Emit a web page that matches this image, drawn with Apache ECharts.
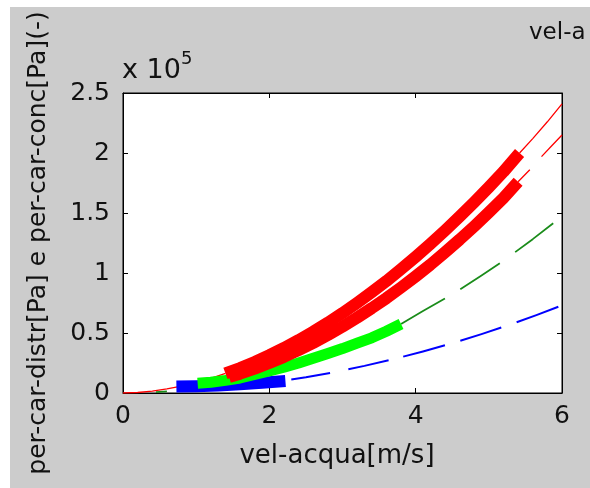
<!DOCTYPE html>
<html><head><meta charset="utf-8">
<script src="https://cdn.jsdelivr.net/npm/echarts@6.0.0/dist/echarts.min.js"></script>
<style>html,body{margin:0;padding:0;background:#fff}#c{width:590px;height:488px}</style>
</head><body><div id="c"></div>
<script>
// ---- data (pressure values in units of 10^5 Pa) ----
const xTickLabels = ['0', '2', '4', '6'];
const yTickLabels = ['0', '0.5', '1', '1.5', '2', '2.5'];

// thick measured bands
const redUpperBandX = [1.4,1.6,1.8,2.0,2.2,2.4,2.6,2.8,3.0,3.2,3.4,3.6,3.8,4.0,4.2,4.4,4.6,4.8,5.0,5.2,5.42];
const redUpperBandY = [0.163,0.208,0.259,0.315,0.375,0.441,0.511,0.586,0.666,0.751,0.840,0.933,1.032,1.135,1.242,1.353,1.469,1.590,1.715,1.844,2.0];
const redLowerBandX = [1.45,1.6,1.8,2.0,2.2,2.4,2.6,2.8,3.0,3.2,3.4,3.6,3.8,4.0,4.2,4.4,4.6,4.8,5.0,5.2,5.4];
const redLowerBandY = [0.133,0.161,0.203,0.250,0.301,0.357,0.418,0.483,0.553,0.628,0.707,0.790,0.879,0.972,1.069,1.172,1.278,1.389,1.505,1.625,1.76];
const greenBandX = [1.02,1.2,1.4,1.6,1.8,2.0,2.2,2.4,2.6,2.8,3.0,3.2,3.4,3.6,3.8];
const greenBandY = [0.082,0.09,0.105,0.125,0.155,0.185,0.215,0.25,0.29,0.33,0.37,0.415,0.46,0.515,0.575];
const blueBandX = [0.73,1.0,1.3,1.6,1.9,2.22];
const blueBandY = [0.054,0.056,0.062,0.072,0.085,0.1];

// thin dashed model lines (null = gap)
const redUpperLineX = [0,0.2,0.4,0.6,0.8,1.0,1.2,1.4,null,5.42,5.6,5.8,6.0];
const redUpperLineY = [0,0.004,0.016,0.034,0.058,0.087,0.122,0.163,null,2.0,2.12,2.26,2.41];
const redLowerLineX = [5.4,5.56,null,5.72,5.86,6.0];
const redLowerLineY = [1.76,1.86,null,1.97,2.06,2.15];
const greenLineX = [0.45,0.6,null,3.8,4.1,4.4,null,4.61,4.9,5.15,null,5.36,5.6,5.88];
const greenLineY = [0.008,0.014,null,0.575,0.683,0.788,null,0.865,0.979,1.082,null,1.174,1.282,1.415];
const blueLineX = [2.3,2.5,2.83,null,3.08,3.3,3.63,null,3.83,4.1,4.4,null,4.61,4.9,5.17,null,5.38,5.65,5.95];
const blueLineY = [0.112,0.131,0.167,null,0.198,0.226,0.273,null,0.303,0.346,0.398,null,0.436,0.491,0.546,null,0.590,0.649,0.719];

function zip(xs, ys) { return xs.map((x, i) => (x === null ? [NaN, NaN] : [x, ys[i]])); }

const FONT = 'DejaVu Sans';
const chart = echarts.init(document.getElementById('c'), null, { renderer: 'canvas' });

function line(data, color, width) {
  return {
    type: 'line', data: data, symbol: 'none', showSymbol: false, connectNulls: false,
    animation: false, silent: true,
    lineStyle: { color: color, width: width, cap: 'butt', join: 'round' }
  };
}

const axisCommon = {
  type: 'value',
  axisLine: { show: true, onZero: false, lineStyle: { color: '#000', width: 1 } },
  axisTick: { show: true, inside: true, length: 5, lineStyle: { color: '#000', width: 1 } },
  splitLine: { show: false }
};

chart.setOption({
  animation: false,
  backgroundColor: '#ffffff',
  graphic: [
    { type: 'rect', left: 10, top: 7, z: -100, shape: { width: 580, height: 481 }, style: { fill: '#cccccc' } },
    { type: 'text', left: 122, top: 57, style: { text: 'x 10', font: '27px "DejaVu Sans"', fill: '#111' } },
    { type: 'text', left: 181, top: 50, style: { text: '5', font: '18px "DejaVu Sans"', fill: '#111' } },
    { type: 'text', left: 529, top: 22, style: { text: 'vel-a', font: '23px "DejaVu Sans"', fill: '#111' } }
  ],
  grid: { left: 123, top: 93, width: 439, height: 300, show: true, backgroundColor: '#ffffff', borderColor: '#000', borderWidth: 1 },
  xAxis: [
    Object.assign({}, axisCommon, {
      min: 0, max: 6, interval: 2, position: 'bottom',
      axisLabel: { color: '#111', fontSize: 25, fontFamily: FONT, margin: 11,
        formatter: v => xTickLabels[Math.round(v / 2)] },
      name: 'vel-acqua[m/s]', nameLocation: 'middle', nameGap: 50,
      nameTextStyle: { color: '#111', fontSize: 26, fontFamily: FONT, padding: [0, 11, 0, 0] }
    }),
    Object.assign({}, axisCommon, {
      min: 0, max: 6, interval: 2, position: 'top', axisLabel: { show: false }
    })
  ],
  yAxis: [
    Object.assign({}, axisCommon, {
      min: 0, max: 2.5, interval: 0.5, position: 'left',
      axisLabel: { color: '#111', fontSize: 25, fontFamily: FONT, margin: 13,
        formatter: v => yTickLabels[Math.round(v / 0.5)] },
      name: 'per-car-distr[Pa] e per-car-conc[Pa](-)', nameLocation: 'middle', nameGap: 72,
      nameTextStyle: { color: '#111', fontSize: 25, fontFamily: FONT }
    }),
    Object.assign({}, axisCommon, {
      min: 0, max: 2.5, interval: 0.5, position: 'right', axisLabel: { show: false }
    })
  ],
  series: [
    line(zip(redUpperLineX, redUpperLineY), '#ff0000', 1.3),
    line(zip(redLowerLineX, redLowerLineY), '#ff0000', 1.3),
    line(zip(greenLineX, greenLineY), '#1a8c1a', 1.8),
    line(zip(blueLineX, blueLineY), '#0000ff', 2),
    line(zip(blueBandX, blueBandY), '#0000ff', 12),
    line(zip(greenBandX, greenBandY), '#00ff00', 11),
    line(zip(redLowerBandX, redLowerBandY), '#ff0000', 12),
    line(zip(redUpperBandX, redUpperBandY), '#ff0000', 12)
  ]
});
</script></body></html>
